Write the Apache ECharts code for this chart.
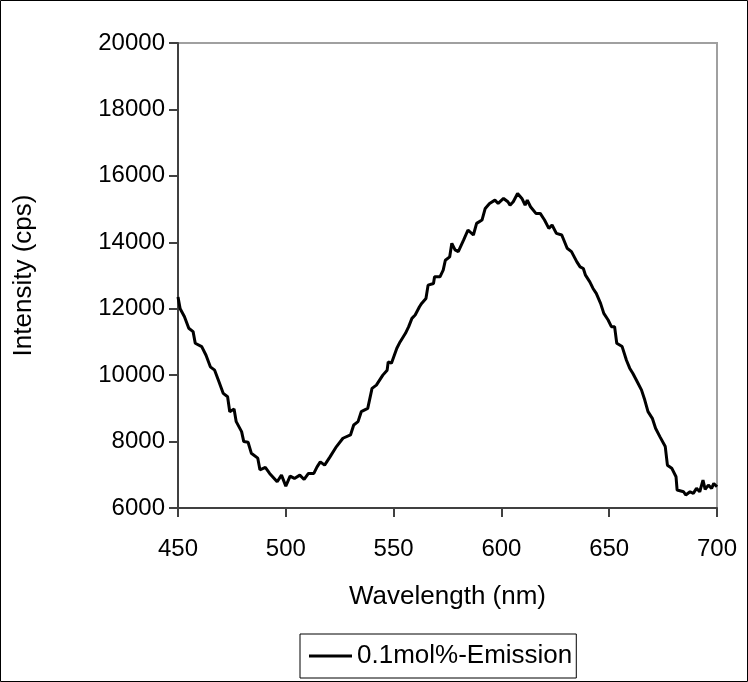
<!DOCTYPE html>
<html>
<head>
<meta charset="utf-8">
<script src="https://cdn.jsdelivr.net/npm/echarts@6/dist/echarts.min.js"></script>
<style>
html,body{margin:0;padding:0;background:#fff;}
#chart{width:748px;height:682px;}
</style>
</head>
<body>
<div id="chart"></div>
<script>
var seriesName = '0.1mol%-Emission';
var wavelengths = [450,451,453,455,457,458,461,463,465,467,469,471,473,474,476,477,479.5,480.5,482.5,484,487,488,490.5,492.5,496,498,500,502,504,506.5,508.5,510.5,513,514.5,516,518,520.5,523.5,526.5,530,531.5,533.5,535,538,540,542,545,547,547.5,549,551.5,553,555.5,557,558.5,560,562,563,565,566,568.5,569,571.5,573,574,576,577,578.5,580,582.5,584.5,587,588.5,591,592.5,594.5,597,598.5,601,603,604,605.5,607.5,609.5,611,612,613.5,616,618,620,622,623.5,625.5,628,630.5,632.5,635,636.5,638,639,641,642.5,644,646,647.5,649.5,651,652.5,653.5,656,658,659.5,661,663,665,666.5,668,670,671.5,673.5,676,677,679,681,681.5,684.5,685.5,687.5,689,690.5,692,693.5,694.5,696,697.5,698.5,700];
var intensities = [12350,12000,11760,11410,11310,10960,10860,10600,10250,10150,9800,9450,9350,8900,8980,8600,8300,8000,7980,7650,7500,7150,7220,7040,6790,6990,6660,6960,6890,6990,6860,7040,7040,7240,7390,7290,7540,7850,8100,8200,8500,8600,8900,9000,9600,9700,10000,10150,10400,10360,10810,11000,11260,11460,11710,11810,12060,12160,12310,12710,12760,12960,12960,13160,13460,13560,13970,13770,13720,14070,14370,14220,14570,14670,15020,15170,15270,15170,15320,15220,15120,15220,15470,15320,15120,15270,15070,14870,14870,14670,14420,14520,14270,14220,13820,13720,13410,13260,13210,13010,12810,12610,12460,12160,11860,11660,11460,11460,10960,10860,10450,10210,10050,9800,9550,9250,8900,8700,8400,8150,7850,7290,7200,6940,6540,6490,6390,6490,6440,6590,6490,6840,6560,6690,6590,6740,6640];
var xTicks = [450,500,550,600,650,700];
var yTicks = [6000,8000,10000,12000,14000,16000,18000,20000];

var FONT = 'Liberation Sans, Arial, sans-serif';
var data = wavelengths.map(function(w,i){return [w,intensities[i]];});
var chart = echarts.init(document.getElementById('chart'), null, {renderer:'canvas'});
chart.setOption({
  backgroundColor:'#ffffff',
  animation:false,
  textStyle:{fontFamily:FONT},
  graphic:[{type:'rect',shape:{x:0.5,y:0.5,width:747,height:681},style:{fill:'none',stroke:'#000',lineWidth:1},silent:true}],
  grid:{left:178,top:43,right:31,bottom:174,show:true,borderColor:'#a0a0a0',borderWidth:2,backgroundColor:'#fff'},
  xAxis:{type:'value',min:xTicks[0],max:xTicks[xTicks.length-1],interval:xTicks[1]-xTicks[0],
    name:'Wavelength (nm)',nameLocation:'middle',nameGap:76,
    nameTextStyle:{fontSize:26,color:'#000',fontFamily:FONT},
    axisLine:{onZero:false,lineStyle:{color:'#404040',width:2}},
    axisTick:{show:true,length:9,lineStyle:{color:'#404040',width:2}},
    axisLabel:{fontSize:24,color:'#000',margin:29,fontFamily:FONT,formatter:function(v){return String(v);}},
    splitLine:{show:false}},
  yAxis:{type:'value',min:yTicks[0],max:yTicks[yTicks.length-1],interval:yTicks[1]-yTicks[0],
    name:'Intensity (cps)',nameLocation:'middle',nameGap:141,nameRotate:90,
    nameTextStyle:{fontSize:26,color:'#000',fontFamily:FONT},
    axisLine:{onZero:false,lineStyle:{color:'#404040',width:2}},
    axisTick:{show:true,length:9,lineStyle:{color:'#404040',width:2}},
    axisLabel:{fontSize:24,color:'#000',margin:13,fontFamily:FONT,formatter:function(v){return String(v);}},
    splitLine:{show:false}},
  legend:{show:true,left:300,top:634,orient:'horizontal',
    backgroundColor:'#fff',borderColor:'#000',borderWidth:1,padding:[9,4,9,9],
    itemWidth:43,itemHeight:3,itemGap:6,icon:'rect',
    textStyle:{fontSize:26,color:'#000',fontFamily:FONT},
    data:[{name:seriesName,icon:'rect',itemStyle:{color:'#000'}}]},
  series:[{name:seriesName,type:'line',data:data,showSymbol:false,symbol:'none',
    lineStyle:{color:'#000',width:3},itemStyle:{color:'#000'},clip:true}]
});
</script>
</body>
</html>
